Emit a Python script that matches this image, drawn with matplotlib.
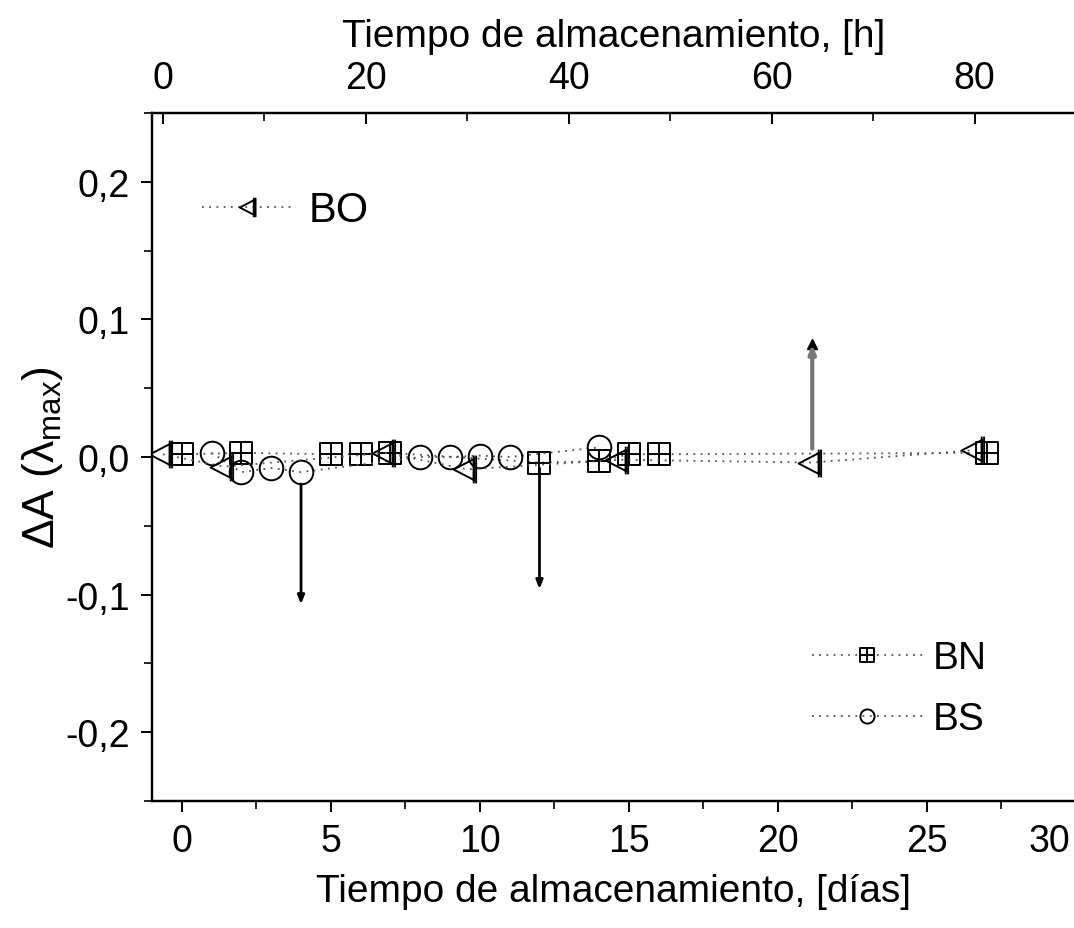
import matplotlib
matplotlib.use("Agg")
import matplotlib.pyplot as plt
from matplotlib.path import Path
from matplotlib.ticker import FuncFormatter, MultipleLocator
from matplotlib.transforms import ScaledTranslation

plt.rcParams['font.family'] = ['Liberation Sans', 'DejaVu Sans']
plt.rcParams['mathtext.fontset'] = 'custom'
plt.rcParams['mathtext.rm'] = 'Liberation Sans'
plt.rcParams['mathtext.it'] = 'Liberation Sans'

# --- data -------------------------------------------------------------
bn_days = [0, 2, 5, 6, 7, 12, 14, 15, 16, 27]
bn_vals = [0.002, 0.003, 0.002, 0.002, 0.003, -0.004, -0.003, 0.002, 0.002, 0.003]

bs_days = [1, 2, 3, 4, 8, 9, 10, 11, 14]
bs_vals = [0.003, -0.011, -0.008, -0.011, 0.000, 0.000, 0.001, 0.000, 0.007]

bo_hours = [0, 6, 22, 30, 45, 64, 80]
bo_vals = [0.002, -0.007, 0.003, -0.009, -0.002, -0.004, 0.005]

# arrows: (index of the point in its series, arrow tip value)
bs_arrow = (3, -0.107)
bn_arrow = (5, -0.096)
bo_arrow = (5, 0.082)

day_ticks = [0, 5, 10, 15, 20, 25, 30]
hour_ticks = [0, 20, 40, 60, 80]
val_ticks = [-0.2, -0.1, 0.0, 0.1, 0.2]

# --- custom markers ---------------------------------------------------
sq_plus = Path(
    [(-1, -1), (1, -1), (1, 1), (-1, 1), (-1, -1),
     (0, -1), (0, 1), (-1, 0), (1, 0)],
    [Path.MOVETO, Path.LINETO, Path.LINETO, Path.LINETO, Path.CLOSEPOLY,
     Path.MOVETO, Path.LINETO, Path.MOVETO, Path.LINETO])
tri_bar = Path(
    [(-1, 0), (0.45, 0.75), (0.45, -0.75), (-1, 0),
     (0.45, 1.0), (0.45, -1.0), (0.62, 1.0), (0.62, -1.0)],
    [Path.MOVETO, Path.LINETO, Path.LINETO, Path.CLOSEPOLY,
     Path.MOVETO, Path.LINETO, Path.MOVETO, Path.LINETO])

W, H = 1074, 929
fig = plt.figure(figsize=(W / 100, H / 100), dpi=100)
ax = fig.add_axes([152 / W, (H - 802) / H, 924 / W, 688 / H])

line_kw = dict(color='#555555', lw=1.3, linestyle=(0, (1, 3)),
               markeredgecolor='black', markerfacecolor='none',
               markeredgewidth=1.4)

ax.plot(bn_days, bn_vals, marker=sq_plus, markersize=16, label='BN', **line_kw)
ax.plot(bs_days, bs_vals, marker='o', markersize=17, label='BS', **line_kw)

ax.set_xlim(-1, 30)
ax.set_ylim(-0.25, 0.25)

ax2 = ax.twiny()
ax2.set_xlim(-1.08, 90)
ax2.plot(bo_hours, bo_vals, marker=tri_bar, markersize=20, label='BO', **line_kw)

# arrows
head = '-|>,head_length=0.5,head_width=0.2'
i, tip = bs_arrow
ax.annotate('', xy=(bs_days[i], tip), xytext=(bs_days[i], bs_vals[i]),
            arrowprops=dict(arrowstyle=head, color='black', lw=2,
                            shrinkA=8.5, shrinkB=0))
i, tip = bn_arrow
ax.annotate('', xy=(bn_days[i], tip), xytext=(bn_days[i], bn_vals[i]),
            arrowprops=dict(arrowstyle=head, color='black', lw=2,
                            shrinkA=4, shrinkB=0))
i, tip = bo_arrow
ax2.annotate('', xy=(bo_hours[i], tip), xytext=(bo_hours[i], bo_vals[i]),
             arrowprops=dict(arrowstyle=head, color='#777777', lw=3,
                             shrinkA=-10, shrinkB=0))
ax2.plot([bo_hours[i]], [tip], marker='^', markersize=7, color='black')

# axes styling
for a in (ax, ax2):
    for s in a.spines.values():
        s.set_linewidth(1.6)
    a.spines['right'].set_visible(False)

ax.set_xticks(day_ticks)
ax.xaxis.set_minor_locator(MultipleLocator(2.5))
ax.set_yticks(val_ticks)
ax.yaxis.set_minor_locator(MultipleLocator(0.05))
ax.yaxis.set_major_formatter(FuncFormatter(
    lambda v, p: f"{v:.1f}".replace('.', ',').replace('-0,0', '0,0')))
ax.tick_params(axis='both', which='major', direction='out', length=8, width=1.4,
               labelsize=27, pad=8)
ax.tick_params(axis='both', which='minor', direction='out', length=6, width=1.2)
ax.tick_params(axis='x', top=False)

# keep the last day label inside the figure
last = ax.xaxis.get_major_ticks()[-1].label1
last.set_horizontalalignment('right')
last.set_transform(last.get_transform() +
                   ScaledTranslation(-6 / 100, 0, fig.dpi_scale_trans))

ax2.set_xticks(hour_ticks)
ax2.xaxis.set_minor_locator(MultipleLocator(10))
ax2.tick_params(axis='x', which='major', direction='in', length=8, width=1.4,
                labelsize=27, pad=12)
ax2.tick_params(axis='x', which='minor', direction='in', length=6, width=1.2)

ax.set_xlabel('Tiempo de almacenamiento, [días]', fontsize=28, labelpad=10)
ax2.set_xlabel('Tiempo de almacenamiento, [h]', fontsize=28, labelpad=10)
ax.set_ylabel(r'$\Delta$A ($\lambda_{\mathrm{max}}$)', fontsize=32, labelpad=0)

ax.legend(loc='upper left', bbox_to_anchor=(0.693, 0.262), frameon=False,
          fontsize=28, handlelength=2.85, handletextpad=0.25,
          labelspacing=0.65, borderpad=0, markerscale=0.6)
ax2.legend(loc='upper left', bbox_to_anchor=(0.032, 0.918), frameon=False,
           fontsize=30, handlelength=2.25, handletextpad=0.3,
           borderpad=0, markerscale=0.7)

fig.savefig('out.png', dpi=100)
